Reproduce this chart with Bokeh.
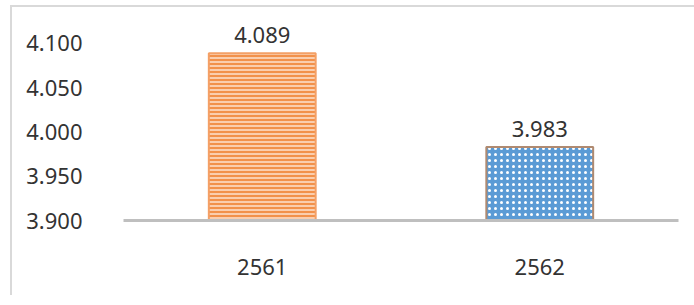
from bokeh.plotting import figure
from bokeh.models import ColumnDataSource, FixedTicker, NumeralTickFormatter, LabelSet, Range1d
from bokeh.core.properties import value
from bokeh.embed import file_html
from bokeh.resources import INLINE

years = ["2561", "2562"]
values = [4.089, 3.983]
labels = ["4.089", "3.983"]
fills = ["#f2914a", "#5b9bd5"]
hatch_patterns = ["horizontal_line", "dot"]
hatch_colors = ["#fde3cf", "#ffffff"]
hatch_scales = [4, 6]
outline_colors = ["#f4a066", "#b08a70"]
y_ticks = [3.900, 3.950, 4.000, 4.050, 4.100]

FONT = "Noto Sans"

src = ColumnDataSource(dict(x=years, top=values, label=labels, fill=fills,
                            hatch=hatch_patterns, hcol=hatch_colors, hscale=hatch_scales,
                            lcol=outline_colors))

p = figure(x_range=years, y_range=Range1d(3.9, 4.1384), width=684, height=290,
           output_backend="svg", toolbar_location=None,
           min_border_left=111, min_border_right=18, min_border_top=2, min_border_bottom=77)
p.styles = {"border-top": "2px solid #d9d9d9", "border-left": "2px solid #d9d9d9",
            "margin-top": "5px", "margin-left": "10px"}
p.x_range.range_padding = 0
p.outline_line_color = None
p.grid.grid_line_color = None

p.vbar(x="x", top="top", bottom=3.9, width=0.385, source=src,
       fill_color="fill", line_color="lcol", line_width=2,
       hatch_pattern="hatch", hatch_color="hcol", hatch_scale="hscale", hatch_weight=1.5)

p.add_layout(LabelSet(x="x", y="top", text="label", source=src, text_align="center",
                      text_baseline="bottom", y_offset=10, text_font_size="22px",
                      text_font=value(FONT), text_color="#333333"))

p.yaxis.ticker = FixedTicker(ticks=y_ticks)
p.yaxis.formatter = NumeralTickFormatter(format="0.000")
p.yaxis.axis_line_color = None
p.yaxis.major_tick_line_color = None
p.yaxis.minor_tick_line_color = None
p.yaxis.major_label_standoff = 35
p.yaxis.major_label_text_font_size = "22px"
p.yaxis.major_label_text_font = FONT
p.yaxis.major_label_text_color = "#333333"

p.xaxis.axis_line_color = "#bfbfbf"
p.xaxis.axis_line_width = 3
p.xaxis.major_tick_line_color = None
p.xaxis.minor_tick_line_color = None
p.xaxis.major_label_standoff = 32
p.xaxis.major_label_text_font_size = "22px"
p.xaxis.major_label_text_font = FONT
p.xaxis.major_label_text_color = "#333333"

open("out.html", "w").write(file_html(p, INLINE))
